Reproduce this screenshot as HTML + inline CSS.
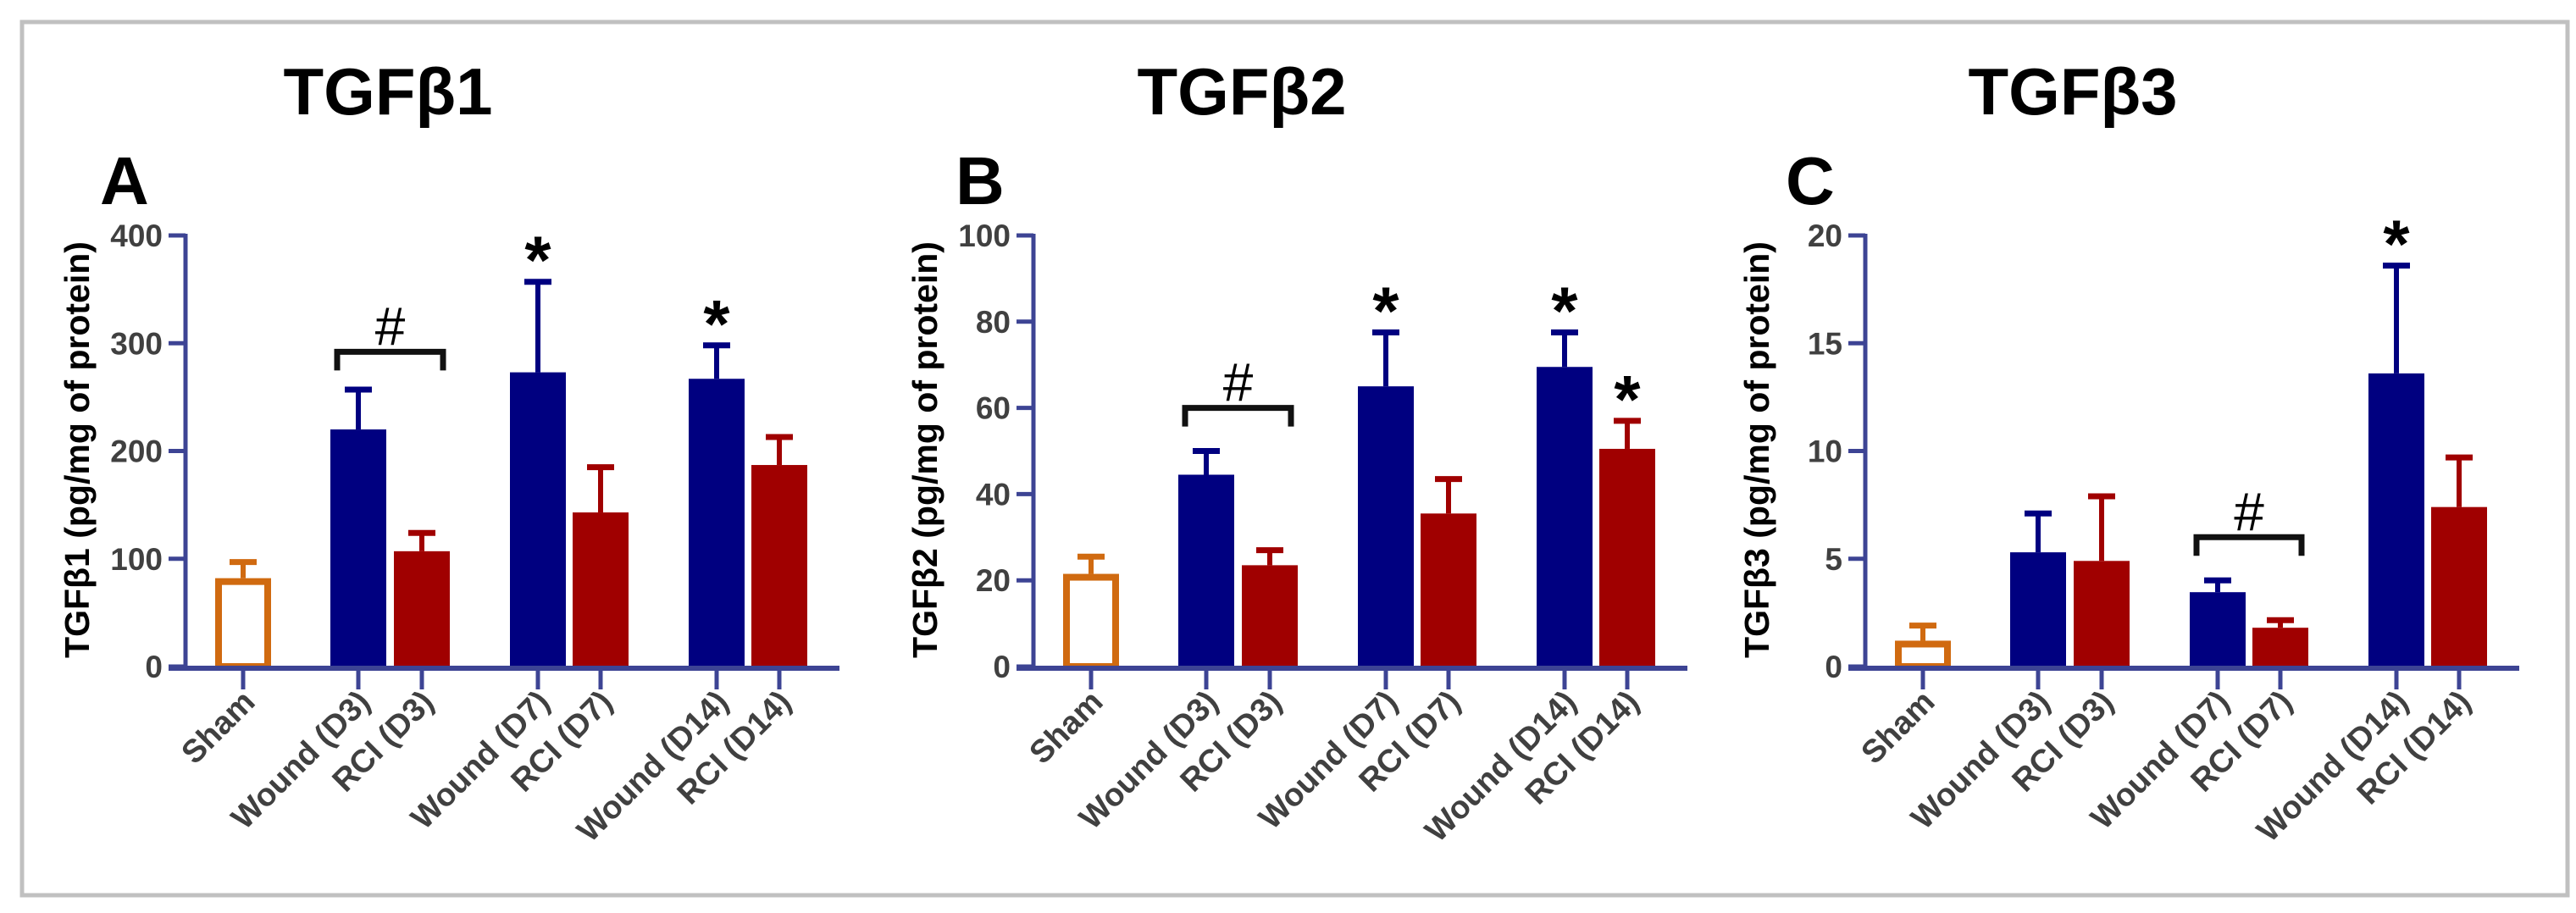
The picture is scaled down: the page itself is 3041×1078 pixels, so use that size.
<!DOCTYPE html>
<html><head><meta charset="utf-8"><style>
html,body{margin:0;padding:0;background:#fff;}
svg{display:block;}
text{font-family:"Liberation Sans",Arial,sans-serif;}
</style></head><body>
<svg id="fig" width="3041" height="1078" viewBox="0 0 3041 1078">
<rect x="26" y="26" width="3005" height="1031" fill="none" stroke="#c0c0c0" stroke-width="5"/>
</svg>
<script>
const categories = ["Sham","Wound (D3)","RCI (D3)","Wound (D7)","RCI (D7)","Wound (D14)","RCI (D14)"];
const groupKinds = ["sham","wound","rci","wound","rci","wound","rci"];
const tgf1Values = [82,220,107,273,143,267,187];
const tgf1Errors = [97,257,124,357,185,298,213];
const tgf2Values = [21.5,44.5,23.5,65,35.5,69.5,50.5];
const tgf2Errors = [25.5,50,27,77.5,43.5,77.5,57];
const tgf3Values = [1.2,5.3,4.9,3.45,1.8,13.6,7.4];
const tgf3Errors = [1.9,7.1,7.9,4.0,2.15,18.6,9.7];
const tgf1Ticks = [0,100,200,300,400];
const tgf2Ticks = [0,20,40,60,80,100];
const tgf3Ticks = [0,5,10,15,20];
const tgf1Stars = [3,5];
const tgf2Stars = [3,5,6];
const tgf3Stars = [5];
const tgf1Bracket = [1,2,292];
const tgf2Bracket = [1,2,60];
const tgf3Bracket = [3,4,6];

const NS="http://www.w3.org/2000/svg";
const svg=document.getElementById('fig');
function mk(tag,attrs,parent){const e=document.createElementNS(NS,tag);for(const k in attrs)e.setAttribute(k,attrs[k]);(parent||svg).appendChild(e);return e;}
const slot=[68,204,279,416,490,627,701];
const colors={sham:"#d06a10",wound:"#000080",rci:"#a00000"};
const Y0=787, YTOP=278, BW=66;

function panel(o){
  const g=mk('g',{});
  
  
  const ax=o.axisX;
  const ymax=o.ticks[o.ticks.length-1];
  const y=v=>Y0-(v/ymax)*(Y0-YTOP);
  const x=i=>ax+slot[i];
  // title
  let t=mk('text',{x:o.titleX,y:135,'font-size':78,'font-weight':'bold','text-anchor':'middle',fill:'#000'},g);
  t.textContent=o.title;
  
  
  t=mk('text',{x:o.letterX,y:241,'font-size':80,'font-weight':'bold',fill:'#000'},g);
  t.textContent=o.letter;
  
  
  // y title
  t=mk('text',{x:0,y:0,'font-size':41,'font-weight':'bold','text-anchor':'middle',fill:'#000',transform:`translate(${ax-114},531) rotate(-90)`},g);
  t.textContent=o.ytitle;
  
  
  // bars
  o.values.forEach((v,i)=>{
    const c=colors[groupKinds[i]];
    const e=o.errors[i];
    const ln=mk('line',{x1:x(i),x2:x(i),y1:y(v),y2:y(e),stroke:c,'stroke-width':6},g);
    
    
    const cap=mk('line',{x1:x(i)-16,x2:x(i)+16,y1:y(e),y2:y(e),stroke:c,'stroke-width':7},g);
    
    
    let r;
    if(groupKinds[i]==='sham'){
      r=mk('rect',{x:x(i)-BW/2+4,y:y(v)+4,width:BW-8,height:Y0-y(v)-4,fill:'#fff',stroke:c,'stroke-width':8},g);
    } else {
      r=mk('rect',{x:x(i)-BW/2,y:y(v),width:BW,height:Y0-y(v),fill:c},g);
    }
    
    
  });
  // axes
  let a=mk('line',{x1:ax,x2:ax,y1:YTOP-2,y2:Y0+3,stroke:'#3d4494','stroke-width':5},g);
  
  
  a=mk('line',{x1:ax-20,x2:ax+772,y1:Y0+2,y2:Y0+2,stroke:'#3d4494','stroke-width':6},g);
  
  
  o.ticks.forEach(tv=>{
    const tk=mk('line',{x1:ax-20,x2:ax,y1:y(tv),y2:y(tv),stroke:'#3d4494','stroke-width':5},g);
    
    
    const tl=mk('text',{x:ax-27,y:y(tv)+13,'font-size':37,'font-weight':'bold','text-anchor':'end',fill:'#404040'},g);
    tl.textContent=tv;
    
    
  });
  categories.forEach((c,i)=>{
    const tk=mk('line',{x1:x(i),x2:x(i),y1:Y0+2,y2:Y0+27,stroke:'#3d4494','stroke-width':5},g);
    
    
    const tl=mk('text',{x:0,y:0,'font-size':38,'font-weight':'bold','text-anchor':'end',fill:'#404040',transform:`translate(${x(i)+16},${Y0+44}) rotate(-45)`},g);
    tl.textContent=c;
    
    
  });
  o.stars.forEach(i=>{
    const s=mk('text',{x:x(i),y:y(o.errors[i])+2,'font-size':80,'font-weight':'bold','text-anchor':'middle',fill:'#000'},g);
    s.textContent='*';
    
    
  });
  const [b1,b2,bv]=o.bracket;
  const by=y(bv);
  const br=mk('path',{d:`M${x(b1)-25},${by+22} V${by} H${x(b2)+25} V${by+22}`,fill:'none',stroke:'#111','stroke-width':7},g);
  
  
  const h=mk('text',{x:(x(b1)+x(b2))/2,y:by-8,'font-size':64,'text-anchor':'middle',fill:'#000'},g);
  h.textContent='#';
  
  
}
panel({id:'tgfb1',axisX:219,title:'TGFβ1',titleX:458,letter:'A',letterX:118,ytitle:'TGFβ1 (pg/mg of protein)',values:tgf1Values,errors:tgf1Errors,ticks:tgf1Ticks,stars:tgf1Stars,bracket:tgf1Bracket});
panel({id:'tgfb2',axisX:1220,title:'TGFβ2',titleX:1466,letter:'B',letterX:1128,ytitle:'TGFβ2 (pg/mg of protein)',values:tgf2Values,errors:tgf2Errors,ticks:tgf2Ticks,stars:tgf2Stars,bracket:tgf2Bracket});
panel({id:'tgfb3',axisX:2202,title:'TGFβ3',titleX:2447,letter:'C',letterX:2108,ytitle:'TGFβ3 (pg/mg of protein)',values:tgf3Values,errors:tgf3Errors,ticks:tgf3Ticks,stars:tgf3Stars,bracket:tgf3Bracket});
</script>
</body></html>
